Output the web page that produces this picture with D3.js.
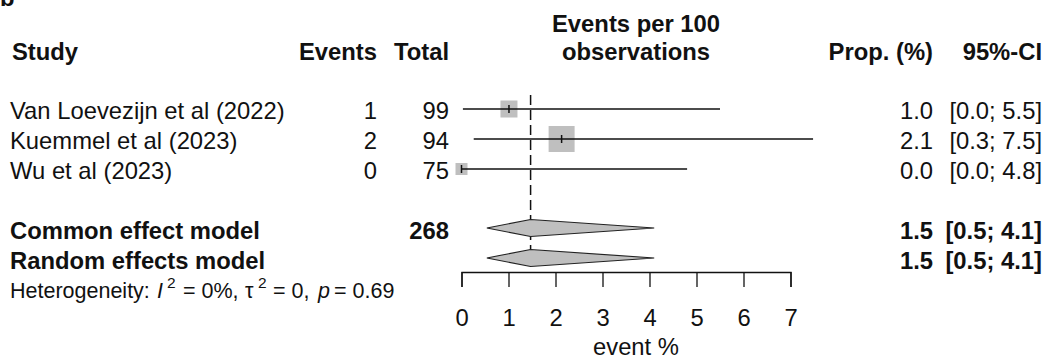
<!DOCTYPE html>
<html>
<head>
<meta charset="utf-8">
<script src="https://cdn.jsdelivr.net/npm/d3@7"></script>
<style>
  html, body { margin: 0; padding: 0; background: #ffffff; }
  svg { display: block; }
  text { font-family: "Liberation Sans", Arial, sans-serif; fill: #111; }
</style>
</head>
<body>
<svg id="chart" width="1047" height="362"></svg>
<script>
// ---- data ----
const studies = ["Van Loevezijn et al (2022)", "Kuemmel et al (2023)", "Wu et al (2023)"];
const events = [1, 2, 0];
const totals = [99, 94, 75];
const estimates = [1.01, 2.13, 0.0];
const lowers = [0.03, 0.26, 0.0];
const uppers = [5.50, 7.48, 4.80];
const weights = [26.1, 61.0, 13.0];

const models = ["Common effect model", "Random effects model"];
const modelEst = [1.47, 1.47];
const modelLow = [0.54, 0.54];
const modelUp = [4.10, 4.10];
const totalN = 268;

const tickValues = [0, 1, 2, 3, 4, 5, 6, 7];
const axisTitle = "event %";

// ---- layout ----
const svg = d3.select("#chart");
const FS = 23.8;
const x = d3.scaleLinear().domain([0, 7]).range([461.5, 790.5]);
const studyY = d3.scalePoint().domain(d3.range(studies.length)).range([109, 169]);
const modelY = d3.scalePoint().domain(d3.range(models.length)).range([228, 258]);
const sizeScale = d3.scaleSqrt().domain([0, d3.max(weights)]).range([0, 26]);
const fmt = d3.format(".1f");
const colEvents = 377, colTotal = 449, colProp = 933, colCI = 1042;
const axisY = 272;

// partial panel letter at top-left (cut off in the original figure too)
svg.append("text").attr("x", 0).attr("y", 6).attr("font-size", FS).attr("font-weight", "bold").text("b");

// headers
const hdr = svg.append("g").attr("font-size", FS).attr("font-weight", "bold");
hdr.append("text").attr("x", 12).attr("y", 60).text("Study");
hdr.append("text").attr("x", colEvents).attr("y", 60).attr("text-anchor", "end").text("Events");
hdr.append("text").attr("x", colTotal).attr("y", 60).attr("text-anchor", "end").text("Total");
hdr.append("text").attr("x", 636).attr("y", 32).attr("text-anchor", "middle").text("Events per 100");
hdr.append("text").attr("x", 636).attr("y", 60).attr("text-anchor", "middle").text("observations");
hdr.append("text").attr("x", colProp).attr("y", 60).attr("text-anchor", "end").text("Prop. (%)");
hdr.append("text").attr("x", colCI).attr("y", 60).attr("text-anchor", "end").text("95%-CI");

// reference dashed line at pooled estimate
svg.append("line")
  .attr("x1", x(modelEst[0])).attr("x2", x(modelEst[0]))
  .attr("y1", 95).attr("y2", 258)
  .attr("stroke", "#111").attr("stroke-width", 1.5)
  .attr("stroke-dasharray", "10,5");

// study rows
const rows = svg.append("g").selectAll("g").data(studies).join("g")
  .attr("transform", (d, i) => `translate(0,${studyY(i)})`);
rows.append("text").attr("x", 10).attr("y", 10).attr("font-size", FS).text(d => d);
rows.append("text").attr("x", colEvents).attr("y", 10).attr("font-size", FS).attr("text-anchor", "end").text((d, i) => events[i]);
rows.append("text").attr("x", colTotal).attr("y", 10).attr("font-size", FS).attr("text-anchor", "end").text((d, i) => totals[i]);
rows.append("text").attr("x", colProp).attr("y", 10).attr("font-size", FS).attr("text-anchor", "end").text((d, i) => fmt(estimates[i]));
rows.append("text").attr("x", colCI).attr("y", 10).attr("font-size", FS).attr("text-anchor", "end")
  .text((d, i) => `[${fmt(lowers[i])}; ${fmt(uppers[i])}]`);
rows.append("rect")
  .attr("x", (d, i) => x(estimates[i]) - sizeScale(weights[i]) / 2)
  .attr("y", (d, i) => -sizeScale(weights[i]) / 2)
  .attr("width", (d, i) => sizeScale(weights[i]))
  .attr("height", (d, i) => sizeScale(weights[i]))
  .attr("fill", "#bfbfbf");
rows.append("line")
  .attr("x1", (d, i) => x(lowers[i])).attr("x2", (d, i) => x(uppers[i]))
  .attr("y1", 0).attr("y2", 0)
  .attr("stroke", "#111").attr("stroke-width", 1.5);
rows.append("line")
  .attr("x1", (d, i) => x(estimates[i])).attr("x2", (d, i) => x(estimates[i]))
  .attr("y1", -4).attr("y2", 4)
  .attr("stroke", "#111").attr("stroke-width", 1.5);

// model rows
const mrows = svg.append("g").selectAll("g").data(models).join("g")
  .attr("transform", (d, i) => `translate(0,${modelY(i)})`);
mrows.append("text").attr("x", 10).attr("y", 11).attr("font-size", FS).attr("font-weight", "bold").text(d => d);
mrows.filter((d, i) => i === 0).append("text").attr("x", colTotal).attr("y", 11).attr("font-size", FS)
  .attr("font-weight", "bold").attr("text-anchor", "end").text(totalN);
mrows.append("text").attr("x", colProp).attr("y", 11).attr("font-size", FS).attr("font-weight", "bold")
  .attr("text-anchor", "end").text((d, i) => fmt(modelEst[i]));
mrows.append("text").attr("x", colCI).attr("y", 11).attr("font-size", FS).attr("font-weight", "bold")
  .attr("text-anchor", "end").text((d, i) => `[${fmt(modelLow[i])}; ${fmt(modelUp[i])}]`);
mrows.append("polygon")
  .attr("points", (d, i) => [
    [x(modelLow[i]), 0], [x(modelEst[i]), -8.5], [x(modelUp[i]), 0], [x(modelEst[i]), 8.5]
  ].map(p => p.join(",")).join(" "))
  .attr("fill", "#bfbfbf").attr("stroke", "#222").attr("stroke-width", 1.2);

// heterogeneity (plotmath-like spacing)
const het = svg.append("text").attr("y", 298).attr("font-size", 21.5);
het.append("tspan").attr("x", 10).text("Heterogeneity:");
het.append("tspan").attr("x", 157).attr("font-style", "italic").text("I");
het.append("tspan").attr("x", 167).attr("font-size", 15.5).attr("dy", -10).text("2");
het.append("tspan").attr("x", 183).attr("dy", 10).text("= 0%,");
het.append("tspan").attr("x", 245).text("τ");
het.append("tspan").attr("x", 258).attr("font-size", 15.5).attr("dy", -10).text("2");
het.append("tspan").attr("x", 273).attr("dy", 10).text("= 0,");
het.append("tspan").attr("x", 318).attr("font-style", "italic").text("p");
het.append("tspan").attr("x", 334).text("= 0.69");

// axis
const axis = d3.axisBottom(x).tickValues(tickValues).tickSize(15).tickPadding(22).tickFormat(d3.format("d"));
const ag = svg.append("g").attr("transform", `translate(0,${axisY})`).call(axis);
ag.select(".domain").attr("stroke", "#111").attr("stroke-width", 1.3);
ag.selectAll(".tick line").attr("stroke", "#111").attr("stroke-width", 1.3);
ag.selectAll(".tick text").attr("font-size", FS).attr("font-family", "Liberation Sans, Arial, sans-serif").attr("fill", "#111");
svg.append("text").attr("x", 636).attr("y", 355).attr("font-size", FS).attr("text-anchor", "middle").text(axisTitle);
</script>
</body>
</html>
